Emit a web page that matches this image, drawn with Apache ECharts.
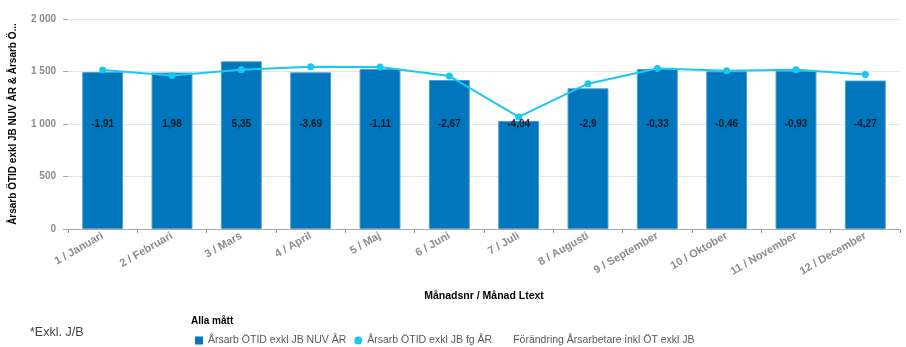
<!DOCTYPE html>
<html>
<head>
<meta charset="utf-8">
<script src="https://cdn.jsdelivr.net/npm/echarts@6/dist/echarts.min.js"></script>
<style>
  html, body { margin: 0; padding: 0; background: #fff; }
  #chart { width: 906px; height: 347px; }
</style>
</head>
<body>
<div id="chart"></div>
<script>
// Month categories
const months = [
  '1 / Januari', '2 / Februari', '3 / Mars', '4 / April', '5 / Maj', '6 / Juni',
  '7 / Juli', '8 / Augusti', '9 / September', '10 / Oktober', '11 / November', '12 / December'
];
// Årsarb ÖTID exkl JB NUV ÅR (bars)
const nuvAr = [1495, 1490, 1597, 1492, 1524, 1419, 1029, 1340, 1524, 1502, 1506, 1414];
// Årsarb ÖTID exkl JB fg ÅR (line)
const fgAr = [1514, 1463, 1517, 1546, 1543, 1457, 1067, 1384, 1528, 1508, 1516, 1471];
// Förändring Årsarbetare inkl ÖT exkl JB (text row)
const forandring = [-1.91, 1.98, 5.35, -3.69, -1.11, -2.67, -4.04, -2.9, -0.33, -0.46, -0.93, -4.27];
// Value axis ticks
const yMin = 0, yMax = 2000, yStep = 500;

const NAME_NUV = 'Årsarb ÖTID exkl JB NUV ÅR';
const NAME_FG = 'Årsarb ÖTID exkl JB fg ÅR';
const NAME_CHG = 'Förändring Årsarbetare inkl ÖT exkl JB';

const sans = '"Liberation Sans", Arial, sans-serif';

const fmtThousands = v => String(v).replace(/\B(?=(\d{3})+(?!\d))/g, ' ');
const fmtComma = v => String(v).replace('.', ',');

const chart = echarts.init(document.getElementById('chart'), null, { renderer: 'canvas' });

chart.setOption({
  animation: false,
  grid: { left: 65, right: 6, top: 19, bottom: 118, containLabel: false },
  legend: {
    left: 195,
    top: 335,
    padding: 0,
    itemWidth: 8,
    itemHeight: 8,
    itemGap: 8,
    itemStyle: { borderWidth: 0 },
    textStyle: { fontFamily: sans, fontSize: 10.5, color: '#595959' },
    data: [
      { name: NAME_NUV, icon: 'rect' },
      { name: NAME_FG, icon: 'circle' },
      { name: NAME_CHG, icon: 'none' }
    ],
    selectedMode: false
  },
  graphic: [
    {
      type: 'text', left: 30, top: 326,
      style: { text: '*Exkl. J/B', font: '12.5px ' + sans, fill: '#444' }
    },
    {
      type: 'text', left: 191, top: 316,
      style: { text: 'Alla mått', font: 'bold 10px ' + sans, fill: '#000' }
    }
  ],
  xAxis: {
    type: 'category',
    data: months,
    name: 'Månadsnr / Månad Ltext',
    nameLocation: 'middle',
    nameGap: 62,
    nameTextStyle: { fontFamily: sans, fontWeight: 'bold', fontSize: 10.5, color: '#000' },
    axisLine: { lineStyle: { color: '#aaaaaa', width: 1 } },
    axisTick: { show: true, length: 4, lineStyle: { color: '#999' } },
    axisLabel: {
      rotate: 30, margin: 6, interval: 0,
      fontFamily: sans, fontWeight: 'bold', fontSize: 11, color: '#8c8c8c'
    }
  },
  yAxis: [
    {
      type: 'value',
      min: yMin, max: yMax, interval: yStep,
      name: 'Årsarb ÖTID exkl JB NUV ÅR & Årsarb Ö...',
      nameLocation: 'middle',
      nameRotate: 90,
      nameGap: 50,
      nameTextStyle: { fontFamily: sans, fontWeight: 'bold', fontSize: 10, color: '#000' },
      axisLine: { show: false },
      axisTick: { show: true, length: 5, lineStyle: { color: '#aaa' } },
      axisLabel: {
        margin: 12, formatter: fmtThousands,
        fontFamily: sans, fontWeight: 'bold', fontSize: 10, color: '#8c8c8c'
      },
      splitLine: { lineStyle: { color: '#e6e6e6', width: 1 } }
    },
    {
      // single-band axis that holds the change row across the middle of the plot
      type: 'category',
      data: [NAME_CHG],
      show: false
    }
  ],
  series: [
    {
      name: NAME_NUV,
      type: 'bar',
      data: nuvAr,
      barCategoryGap: '41%',
      itemStyle: { color: '#0077bc', borderColor: '#4c9fd4', borderWidth: 1 },
      z: 2
    },
    {
      name: NAME_FG,
      type: 'line',
      data: fgAr,
      symbol: 'circle',
      symbolSize: 7,
      showAllSymbol: true,
      lineStyle: { color: '#19c8f2', width: 2 },
      itemStyle: { color: '#19c8f2' },
      z: 4
    },
    {
      name: NAME_CHG,
      type: 'scatter',
      yAxisIndex: 1,
      data: forandring.map((v, i) => [i, NAME_CHG, v]),
      symbolSize: 1,
      itemStyle: { color: 'rgba(0,0,0,0)' },
      label: {
        show: true,
        position: 'inside',
        formatter: p => fmtComma(p.value[2]),
        fontFamily: sans, fontWeight: 'bold', fontSize: 10, color: '#000'
      },
      z: 5
    }
  ]
});
</script>
</body>
</html>
